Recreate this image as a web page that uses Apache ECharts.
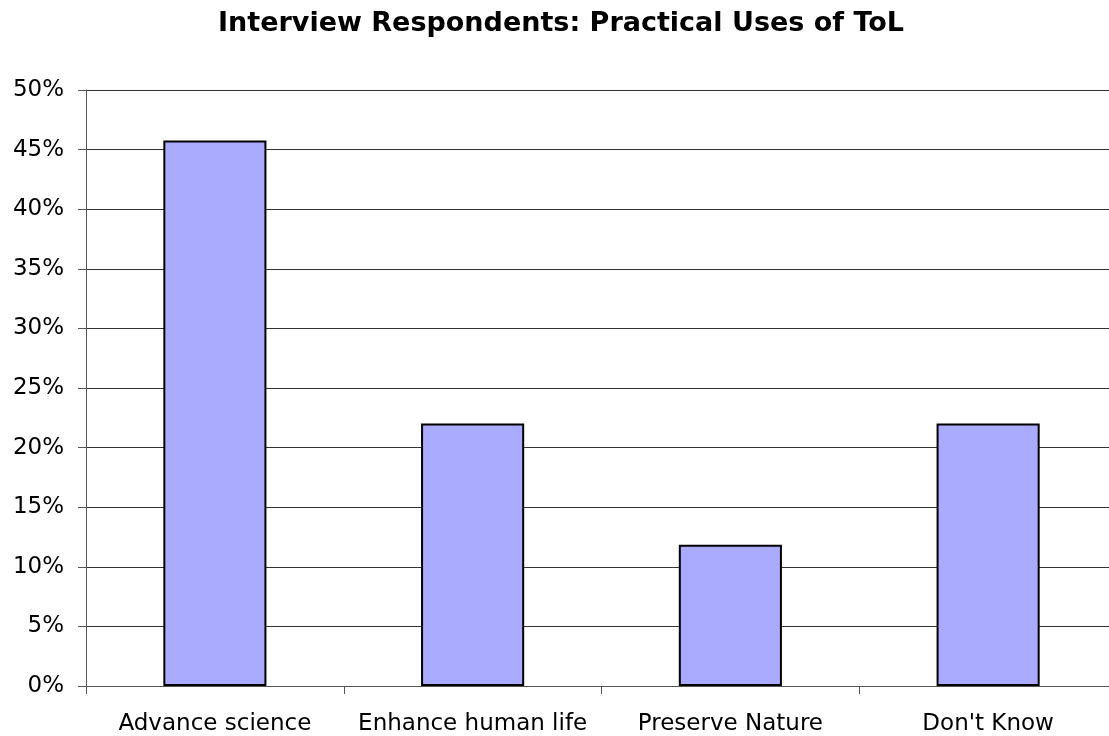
<!DOCTYPE html>
<html>
<head>
<meta charset="utf-8">
<script src="https://cdn.jsdelivr.net/npm/echarts@6/dist/echarts.min.js"></script>
<style>
  html, body { margin: 0; padding: 0; background: #fff; }
  #chart { width: 1109px; height: 736px; }
</style>
</head>
<body>
<div id="chart"></div>
<script>
// Practical uses named by interview respondents (percent of respondents)
const categories = ['Advance science', 'Enhance human life', 'Preserve Nature', "Don't Know"];
const shares = [45.76, 22.03, 11.86, 22.03];
const yTicks = { min: 0, max: 50, step: 5 };

const chart = echarts.init(document.getElementById('chart'));
chart.setOption({
  animation: false,
  backgroundColor: '#ffffff',
  title: {
    text: 'Interview Respondents: Practical Uses of ToL',
    left: 556,
    top: 5,
    textAlign: 'center',
    textStyle: { fontFamily: 'DejaVu Sans', fontWeight: 'bold', fontSize: 27, color: '#000' }
  },
  // plot area runs slightly past the right edge of the canvas
  grid: { left: 86, width: 1031, top: 90, height: 596, containLabel: false, outerBoundsMode: 'none' },
  xAxis: {
    type: 'category',
    data: categories,
    axisLine: { lineStyle: { color: '#555', width: 1 } },
    axisTick: { show: true, length: 8, alignWithLabel: false, lineStyle: { color: '#555' } },
    axisLabel: { fontFamily: 'DejaVu Sans', fontSize: 23, color: '#000', margin: 27, interval: 0 }
  },
  yAxis: {
    type: 'value',
    min: yTicks.min,
    max: yTicks.max,
    interval: yTicks.step,
    axisLine: { show: true, lineStyle: { color: '#555', width: 1 } },
    axisTick: { show: true, length: 8, lineStyle: { color: '#555' } },
    axisLabel: { fontFamily: 'DejaVu Sans', fontSize: 23, color: '#000', margin: 22, padding: [3, 0, 0, 0], formatter: '{value}%' },
    splitLine: { show: true, lineStyle: { color: '#333', width: 1 } }
  },
  series: [{
    type: 'bar',
    data: shares,
    barWidth: '40%',
    itemStyle: { color: '#aaaaff', borderColor: '#000', borderWidth: 2 }
  }]
});
</script>
</body>
</html>
